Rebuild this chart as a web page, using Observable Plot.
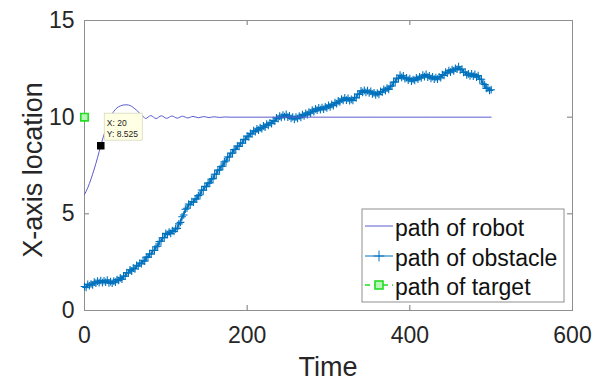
<!DOCTYPE html>
<html>
<head>
<meta charset="utf-8">
<script src="https://cdn.jsdelivr.net/npm/d3@7"></script>
<script src="https://cdn.jsdelivr.net/npm/@observablehq/plot@0.6"></script>
<style>
  body { margin: 0; background: #fff; }
  #chart { width: 607px; height: 381px; }
  #chart svg { display: block; }
</style>
</head>
<body>
<div id="chart"></div>
<script>
// Axis ticks
const xTicks = [0, 200, 400, 600];
const yTicks = [0, 5, 10, 15];

// Robot path: x-location over time (rise, overshoot, damped ripple, settle at 10)
const robotTime = [0, 4, 8, 12, 16, 20, 24, 28, 32, 36, 40, 44, 48, 52, 56, 60, 64, 68, 72,
  75, 81.5, 88, 94.5, 101, 107.5, 114, 120.5, 127, 133.5, 140, 146.5, 153, 159.5, 166, 172.5, 179,
  250, 350, 500];
const robotX = [6.0, 6.35, 6.8, 7.32, 7.9, 8.525, 9.1, 9.6, 10.0, 10.3, 10.48, 10.58, 10.63, 10.64, 10.6, 10.5, 10.36, 10.2, 10.05,
  9.93, 10.08, 9.93, 10.07, 9.94, 10.06, 9.95, 10.05, 9.96, 10.04, 9.97, 10.03, 9.98, 10.02, 9.985, 10.01, 10.0,
  10.0, 10.0, 10.0];

// Obstacle path: x-location sampled every 2 time steps, t = 0 … 500
const obstacleStep = 2;
const obstacleX = [
  1.24, 1.19, 1.35, 1.28, 1.37, 1.32, 1.47, 1.42, 1.52, 1.44,
  1.55, 1.44, 1.54, 1.46, 1.57, 1.43, 1.49, 1.41, 1.52, 1.47,
  1.60, 1.55, 1.69, 1.62, 1.77, 1.77, 1.96, 1.94, 2.10, 2.04,
  2.19, 2.15, 2.34, 2.30, 2.45, 2.42, 2.57, 2.55, 2.76, 2.76,
  2.92, 2.92, 3.11, 3.10, 3.30, 3.33, 3.57, 3.58, 3.76, 3.77,
  3.99, 3.93, 4.06, 3.99, 4.13, 4.09, 4.22, 4.25, 4.48, 4.56,
  4.85, 4.94, 5.24, 5.29, 5.51, 5.47, 5.63, 5.60, 5.77, 5.77,
  5.94, 5.99, 6.23, 6.22, 6.42, 6.40, 6.59, 6.60, 6.80, 6.82,
  7.05, 7.05, 7.26, 7.27, 7.45, 7.47, 7.69, 7.73, 7.94, 7.94,
  8.14, 8.13, 8.33, 8.34, 8.51, 8.49, 8.66, 8.65, 8.85, 8.84,
  9.02, 8.99, 9.16, 9.13, 9.30, 9.25, 9.39, 9.33, 9.46, 9.40,
  9.55, 9.48, 9.64, 9.58, 9.71, 9.67, 9.82, 9.79, 9.97, 9.92,
  10.05, 9.99, 10.11, 10.03, 10.14, 10.00, 10.07, 9.94, 10.01, 9.89,
  10.00, 9.93, 10.06, 9.99, 10.13, 10.07, 10.20, 10.13, 10.26, 10.21,
  10.37, 10.29, 10.43, 10.36, 10.48, 10.39, 10.50, 10.41, 10.53, 10.48,
  10.61, 10.53, 10.66, 10.60, 10.75, 10.70, 10.84, 10.79, 10.94, 10.87,
  11.00, 10.88, 10.97, 10.85, 10.92, 10.87, 11.02, 11.00, 11.20, 11.18,
  11.36, 11.28, 11.39, 11.28, 11.37, 11.26, 11.34, 11.20, 11.26, 11.15,
  11.25, 11.18, 11.33, 11.29, 11.44, 11.37, 11.50, 11.44, 11.60, 11.61,
  11.81, 11.82, 12.02, 11.99, 12.17, 12.06, 12.14, 11.99, 12.04, 11.92,
  12.00, 11.86, 11.95, 11.90, 12.04, 11.97, 12.09, 12.03, 12.17, 12.10,
  12.21, 12.07, 12.14, 12.01, 12.09, 11.97, 12.05, 11.97, 12.09, 12.04,
  12.20, 12.16, 12.33, 12.28, 12.41, 12.33, 12.46, 12.39, 12.53, 12.48,
  12.61, 12.45, 12.49, 12.31, 12.33, 12.19, 12.24, 12.14, 12.24, 12.12,
  12.21, 12.07, 12.15, 11.96, 11.96, 11.73, 11.69, 11.49, 11.50, 11.38,
  11.42
];

// Target position
const targetTime = [0];
const targetX = [10];

// Data tip on the robot path
const tipTime = 20;
const tipValue = 8.525;

// Legend entries and axis titles
const legendLabels = ["path of robot", "path of obstacle", "path of target"];
const xTitle = "Time";
const yTitle = "X-axis location";

const robotColor = "#5b5bd0";
const obstacleColor = "#0072bd";
const targetColor = "#22dd22";
const font = "'Liberation Sans', Arial, Helvetica, sans-serif";
const textColor = "#262626";

const robot = robotTime.map((t, i) => ({t, v: robotX[i]}));
const obstacle = obstacleX.map((v, i) => ({t: i * obstacleStep, v}));
const target = targetTime.map((t, i) => ({t, v: targetX[i]}));
const tip = [{t: tipTime, v: tipValue}];

const W = 607, H = 381;
const mL = 84, mR = 35, mT = 20, mB = 71;
const plotW = W - mL - mR, plotH = H - mT - mB;

const chart = Plot.plot({
  width: W,
  height: H,
  marginLeft: mL,
  marginRight: mR,
  marginTop: mT,
  marginBottom: mB,
  style: {fontFamily: font, fontSize: "23px", color: textColor, background: "#fff", overflow: "visible"},
  x: {domain: [0, 600]},
  y: {domain: [0, 15]},
  marks: [
    // inward ticks on all four sides
    Plot.tickX(xTicks, {x: d => d, insetTop: plotH - 5, stroke: "#555", strokeWidth: 0.8}),
    Plot.tickX(xTicks, {x: d => d, insetBottom: plotH - 5, stroke: "#555", strokeWidth: 0.8}),
    Plot.tickY(yTicks, {y: d => d, insetRight: plotW - 5, stroke: "#555", strokeWidth: 0.8}),
    Plot.tickY(yTicks, {y: d => d, insetLeft: plotW - 5, stroke: "#555", strokeWidth: 0.8}),
    Plot.axisX({ticks: xTicks, tickSize: 0, tickPadding: 16, label: null, fill: textColor}),
    Plot.axisY({ticks: yTicks, tickSize: 0, tickPadding: 10, label: null, fill: textColor}),
    Plot.frame({stroke: "#8f8f8f", strokeWidth: 1}),
    // obstacle path
    Plot.line(obstacle, {x: "t", y: "v", stroke: obstacleColor, strokeWidth: 1.5}),
    Plot.dot(obstacle, {x: "t", y: "v", symbol: "plus", r: 2.6, stroke: obstacleColor, strokeWidth: 1.1}),
    // robot path
    Plot.line(robot, {x: "t", y: "v", curve: "monotone-x", stroke: robotColor, strokeWidth: 1}),
    // target
    Plot.dot(target, {x: "t", y: "v", symbol: "square", r: 4.2, stroke: targetColor, fill: "#b8f5b8", strokeWidth: 1.6}),
    // data tip marker
    Plot.dot(tip, {x: "t", y: "v", symbol: "square", r: 3.4, fill: "#000", stroke: "#000"})
  ]
});

document.getElementById("chart").appendChild(chart);

const svg = d3.select(chart);
const sx = chart.scale("x"), sy = chart.scale("y");

// axis titles
const titles = svg.append("g").attr("font-family", font).attr("font-size", 27)
  .attr("fill", textColor).attr("text-anchor", "middle");
titles.append("text").attr("x", mL + plotW / 2).attr("y", 376).text(xTitle);
titles.append("text").attr("transform", `translate(42,170) rotate(-90)`).text(yTitle);

// data tip box
const px = sx.apply(tipTime), py = sy.apply(tipValue);
const tipG = svg.append("g").attr("font-family", font).attr("font-size", 8.5)
  .attr("fill", "#222").attr("text-anchor", "start");
tipG.append("rect")
  .attr("x", px + 4).attr("y", py - 32).attr("width", 38).attr("height", 27)
  .attr("fill", "#ffffe3").attr("stroke", "#d8d8c0").attr("stroke-width", 0.8);
tipG.append("text").attr("x", px + 6.5).attr("y", py - 19).text(`X: ${tipTime}`);
tipG.append("text").attr("x", px + 6.5).attr("y", py - 8).text(`Y: ${tipValue}`);

// legend
const lx = 362, ly = 209, lw = 202, lh = 93;
const leg = svg.append("g").attr("font-family", font).attr("font-size", 23)
  .attr("fill", "#111").attr("text-anchor", "start");
leg.append("rect").attr("x", lx).attr("y", ly).attr("width", lw).attr("height", lh)
  .attr("fill", "#fff").attr("stroke", "#8f8f8f").attr("stroke-width", 1);
const rows = [226, 256, 285];
const baselines = [236, 266, 295];
// robot sample
leg.append("line").attr("x1", 365).attr("x2", 393).attr("y1", rows[0]).attr("y2", rows[0])
  .attr("stroke", robotColor).attr("stroke-width", 1);
// obstacle sample
leg.append("line").attr("x1", 365).attr("x2", 393).attr("y1", rows[1]).attr("y2", rows[1])
  .attr("stroke", obstacleColor).attr("stroke-width", 1);
leg.append("path").attr("d", d3.symbol(d3.symbolPlus, 40)())
  .attr("transform", `translate(379,${rows[1]})`).attr("stroke", obstacleColor).attr("fill", "none").attr("stroke-width", 1);
// target sample
leg.append("line").attr("x1", 365).attr("x2", 393).attr("y1", rows[2]).attr("y2", rows[2])
  .attr("stroke", targetColor).attr("stroke-width", 1.6).attr("stroke-dasharray", "5,4");
leg.append("rect").attr("x", 375).attr("y", rows[2] - 4).attr("width", 8).attr("height", 8)
  .attr("fill", "#b8f5b8").attr("stroke", targetColor).attr("stroke-width", 1.6);
legendLabels.forEach((s, i) => {
  leg.append("text").attr("x", 395).attr("y", baselines[i]).text(s);
});
</script>
</body>
</html>
